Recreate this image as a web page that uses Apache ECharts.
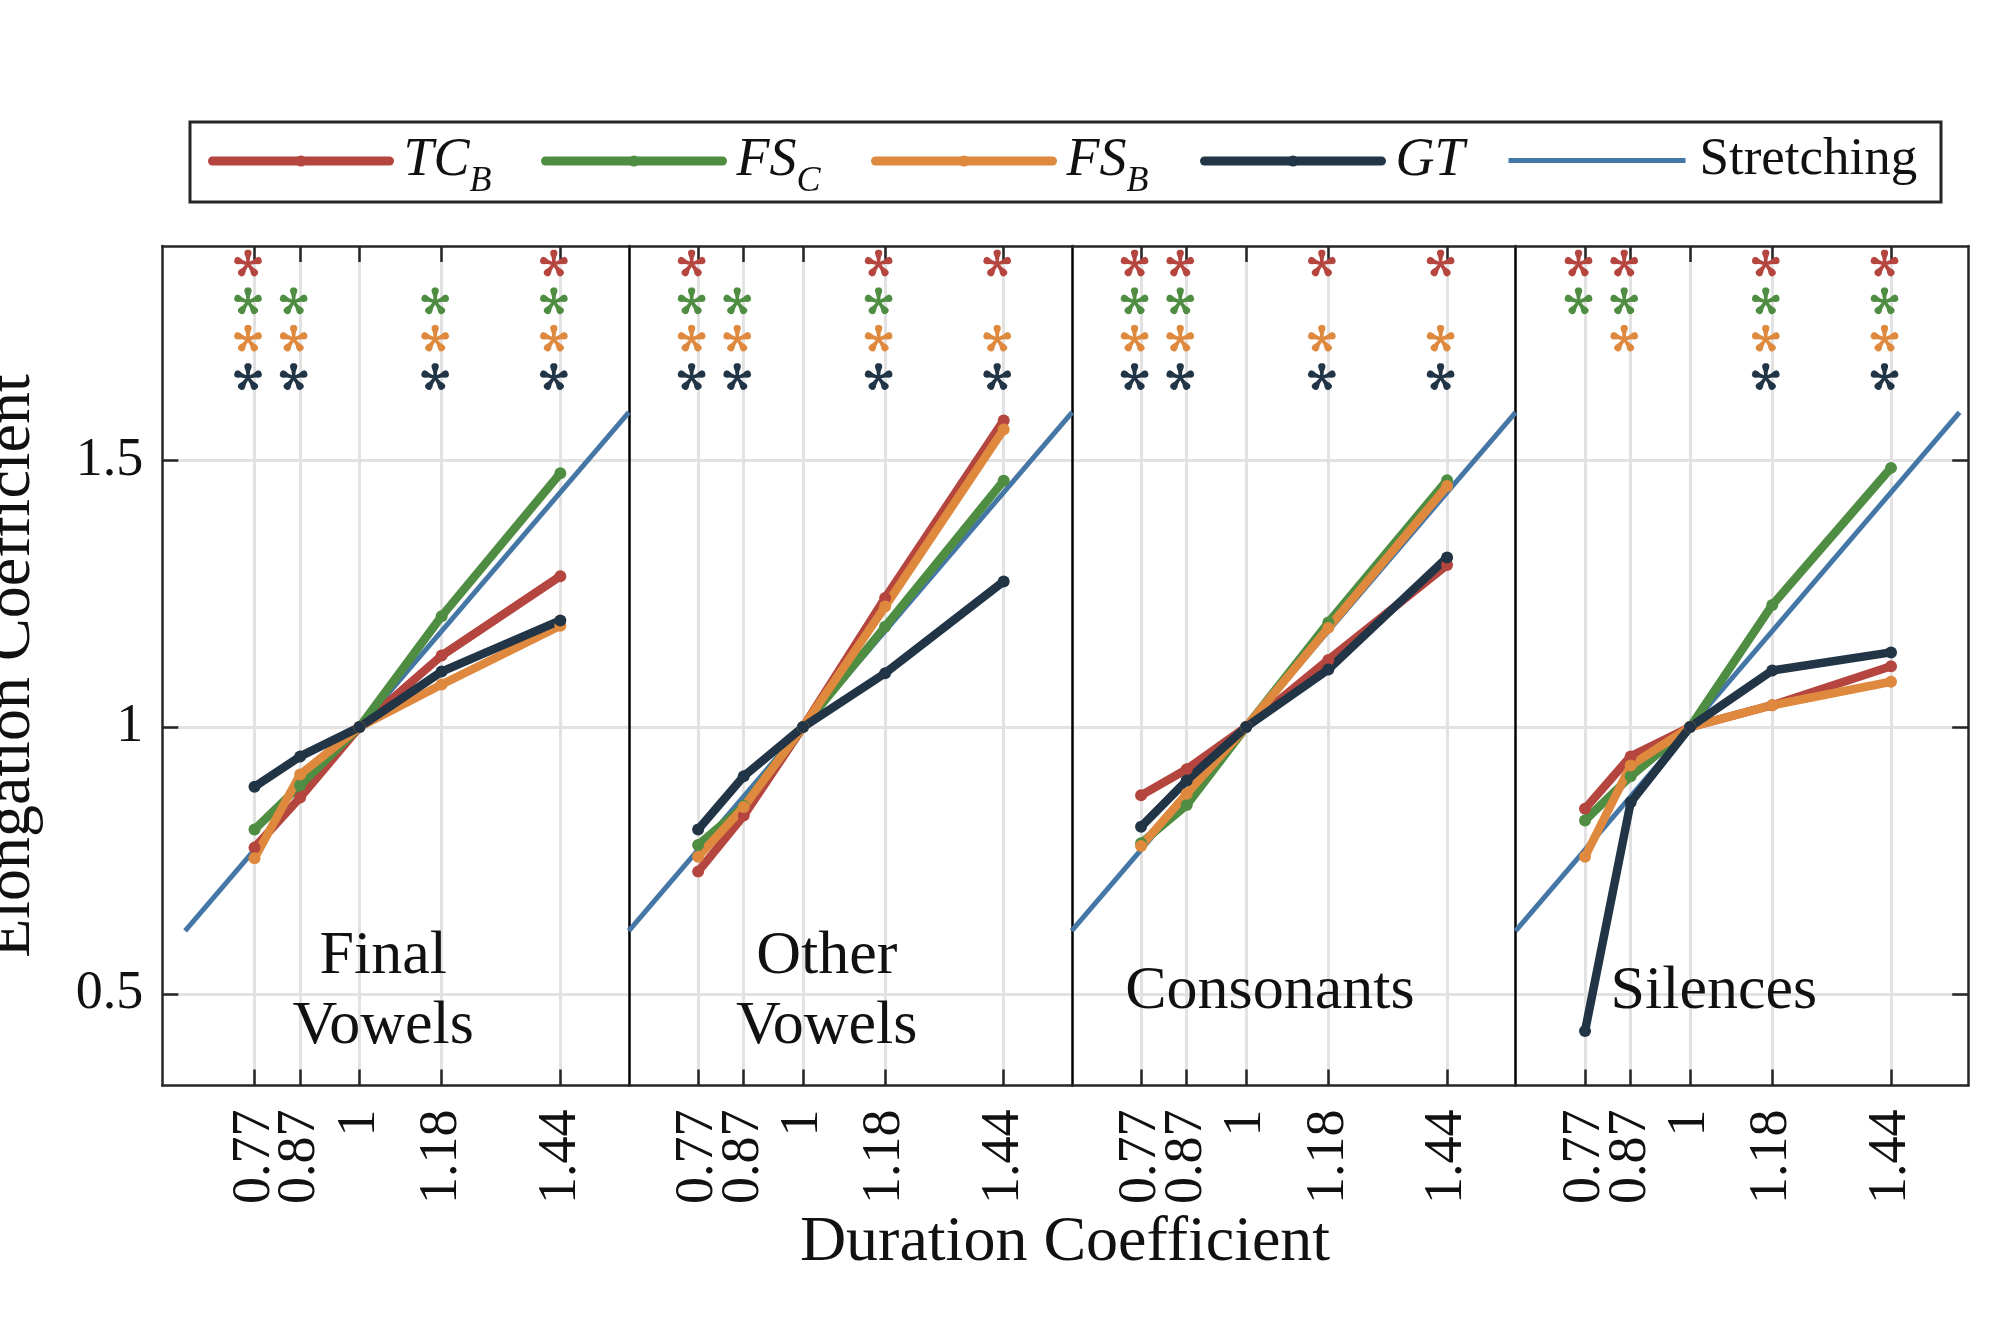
<!DOCTYPE html>
<html>
<head>
<meta charset="utf-8">
<script src="https://cdn.jsdelivr.net/npm/echarts@6/dist/echarts.min.js"></script>
<style>
html,body{margin:0;padding:0;background:#fff;}
#c{width:2000px;height:1319px;}
</style>
</head>
<body>
<div id="c"></div>
<script>
// ---------------- data ----------------
const durations = [0.77, 0.87, 1, 1.18, 1.44];
const testedDurations = [0.77, 0.87, 1.18, 1.44];
const panelNames = ['Final\nVowels', 'Other\nVowels', 'Consonants', 'Silences'];
const yTicks = [0.5, 1, 1.5];
const stretchRange = [0.618, 1.59];

const tcB = [
  [0.774, 0.868, 1, 1.134, 1.283],
  [0.729, 0.834, 1, 1.242, 1.575],
  [0.872, 0.921, 1, 1.126, 1.304],
  [0.847, 0.945, 1, 1.041, 1.114]
];
const fsC = [
  [0.808, 0.891, 1, 1.208, 1.476],
  [0.779, 0.852, 1, 1.188, 1.462],
  [0.782, 0.854, 1, 1.196, 1.463],
  [0.825, 0.908, 1, 1.229, 1.486]
];
const fsB = [
  [0.754, 0.911, 1, 1.080, 1.190],
  [0.757, 0.850, 1, 1.226, 1.558],
  [0.777, 0.875, 1, 1.186, 1.452],
  [0.757, 0.928, 1, 1.041, 1.085]
];
const gt = [
  [0.888, 0.945, 1, 1.104, 1.200],
  [0.808, 0.908, 1, 1.101, 1.273],
  [0.813, 0.900, 1, 1.108, 1.318],
  [0.430, 0.859, 1, 1.106, 1.140]
];
// significance marks per panel, for testedDurations
const sigTcB = [[1,0,0,1],[1,0,1,1],[1,1,1,1],[1,1,1,1]];
const sigFsC = [[1,1,1,1],[1,1,1,0],[1,1,0,0],[1,1,1,1]];
const sigFsB = [[1,1,1,1],[1,1,1,1],[1,1,1,1],[0,1,1,1]];
const sigGt  = [[1,1,1,1],[1,1,1,1],[1,1,1,1],[0,0,1,1]];

// ---------------- style / layout ----------------
const FONT = "'Liberation Serif', 'DejaVu Serif', serif";
const TXT = '#111111';
const FRAME = '#262626';
const GRIDC = '#e2e2e2';
const BLUE = '#4476a6';
const models = [
  {name: 'TC_B', values: tcB, sig: sigTcB, color: '#b5453f'},
  {name: 'FS_C', values: fsC, sig: sigFsC, color: '#4f8e42'},
  {name: 'FS_B', values: fsB, sig: sigFsB, color: '#de893d'},
  {name: 'GT',   values: gt,  sig: sigGt,  color: '#213547'}
];
const gridBoxes = [
  {left: 162.3, width: 466.5, min: 0.568, max: 1.59},
  {left: 628.8, width: 443.3, min: 0.618, max: 1.59},
  {left: 1072.1, width: 443.5, min: 0.619, max: 1.59},
  {left: 1515.6, width: 452.6, min: 0.618, max: 1.609}
];
const GRID_TOP = 246, GRID_H = 839.5, Y_MIN = 0.328, Y_MAX = 1.902;
const starRowY = [1.870, 1.799, 1.729, 1.657];
const labelPos = [1.052, 0.504];

// tick labels split into two interleaved sets so close labels are not auto-hidden
const labelsA = durations.filter((d, j) => j % 2 === 0);
const labelsB = durations.filter((d, j) => j % 2 === 1);

function asteriskPath() {
  const arm = [[0,-0.1],[0.45,-0.15],[0.7,-0.25],[0.88,-0.25],[1.0,-0.12],[1.0,0.12],[0.88,0.25],[0.7,0.25],[0.45,0.15],[0,0.1]];
  const angles = [90, 18, -54, -126, 162];
  let d = '';
  angles.forEach(a => {
    const t = a * Math.PI / 180, c = Math.cos(t), s = Math.sin(t);
    arm.forEach((p, k) => {
      const x = p[0] * c - p[1] * s, y = -(p[0] * s + p[1] * c);
      d += (k === 0 ? 'M' : 'L') + (x * 100).toFixed(1) + ' ' + (y * 100).toFixed(1) + ' ';
    });
    d += 'Z ';
  });
  return 'path://' + d;
}
const STAR = asteriskPath();

const xLabelStyle = {rotate: 90, margin: 24, interval: 0, showMinLabel: true, showMaxLabel: true,
  fontSize: 54, fontFamily: FONT, color: TXT};

const grids = [], xAxes = [], yAxes = [], series = [];
gridBoxes.forEach((g, i) => {
  grids.push({left: g.left, top: GRID_TOP, width: g.width, height: GRID_H, containLabel: false});
  const tickStyle = {color: FRAME, width: 2.5};
  // 3i: bottom frame, ticks, grid lines, label set A
  xAxes.push({
    gridIndex: i, type: 'value', min: g.min, max: g.max, position: 'bottom',
    axisLine: {show: true, onZero: false, lineStyle: {color: FRAME, width: 2.5}},
    axisTick: {show: true, inside: true, length: 16, customValues: durations, lineStyle: tickStyle},
    axisLabel: Object.assign({show: true, customValues: labelsA}, xLabelStyle),
    splitLine: {show: true, lineStyle: {color: GRIDC, width: 3}}
  });
  // 3i+1: top frame with ticks
  xAxes.push({
    gridIndex: i, type: 'value', min: g.min, max: g.max, position: 'top',
    axisLine: {show: true, onZero: false, lineStyle: {color: FRAME, width: 2.5}},
    axisTick: {show: true, inside: true, length: 16, customValues: durations, lineStyle: tickStyle},
    axisLabel: {show: false},
    splitLine: {show: false}
  });
  // 3i+2: label set B only
  xAxes.push({
    gridIndex: i, type: 'value', min: g.min, max: g.max, position: 'bottom', offset: 0,
    axisLine: {show: false, onZero: false},
    axisTick: {show: false, customValues: labelsB},
    axisLabel: Object.assign({show: true, customValues: labelsB}, xLabelStyle),
    splitLine: {show: false}
  });
  yAxes.push({
    gridIndex: i, type: 'value', min: Y_MIN, max: Y_MAX, position: 'left',
    axisLine: {show: true, onZero: false, lineStyle: {color: i === 0 ? FRAME : '#000', width: 2.5}},
    axisTick: {show: i === 0, inside: true, length: 16, customValues: yTicks, lineStyle: tickStyle},
    axisLabel: {show: i === 0, customValues: yTicks, margin: 19, fontSize: 54, fontFamily: FONT, color: TXT,
      showMinLabel: true, showMaxLabel: true},
    splitLine: {show: true, lineStyle: {color: GRIDC, width: 3}}
  });
});
// right frame of last panel with inward ticks
yAxes.push({
  gridIndex: 3, type: 'value', min: Y_MIN, max: Y_MAX, position: 'right',
  axisLine: {show: true, onZero: false, lineStyle: {color: FRAME, width: 2.5}},
  axisTick: {show: true, inside: true, length: 16, customValues: yTicks, lineStyle: {color: FRAME, width: 2.5}},
  axisLabel: {show: false},
  splitLine: {show: false}
});

gridBoxes.forEach((g, i) => {
  const xi = 3 * i;
  series.push({
    type: 'line', name: 'Stretching', xAxisIndex: xi, yAxisIndex: i,
    data: stretchRange.map(v => [v, v]), symbol: 'none',
    lineStyle: {color: BLUE, width: 5}, itemStyle: {color: BLUE}, z: 2, silent: true
  });
  models.forEach(m => {
    series.push({
      type: 'line', name: m.name, xAxisIndex: xi, yAxisIndex: i,
      data: durations.map((d, j) => [d, m.values[i][j]]),
      symbol: 'circle', symbolSize: 12, showSymbol: true,
      lineStyle: {color: m.color, width: 8.5, cap: 'round', join: 'round'},
      itemStyle: {color: m.color}, z: 3, silent: true
    });
  });
  models.forEach((m, k) => {
    series.push({
      type: 'scatter', name: m.name + ' significance', xAxisIndex: xi, yAxisIndex: i,
      data: testedDurations.filter((d, j) => m.sig[i][j]).map(d => [d, starRowY[k]]),
      symbol: STAR, symbolSize: 28, symbolKeepAspect: true, symbolOffset: [-6.5, 0],
      itemStyle: {color: m.color, opacity: 1}, z: 4, silent: true
    });
  });
  series.push({
    type: 'scatter', name: 'panel label', xAxisIndex: xi, yAxisIndex: i,
    data: [labelPos], symbolSize: 1, itemStyle: {color: '#fff', opacity: 0}, silent: true, z: 5,
    label: {show: true, position: 'inside', formatter: panelNames[i], opacity: 1,
      textBorderWidth: 0, textShadowBlur: 0,
      fontFamily: FONT, fontSize: 62, lineHeight: 70, color: TXT, align: 'center', verticalAlign: 'middle'}
  });
});

// legends: one per entry
const legendLefts = [208, 541, 871, 1200, 1506];
const legendNames = ['TC_B', 'FS_C', 'FS_B', 'GT', 'Stretching'];
const rich = {
  i: {fontFamily: FONT, fontStyle: 'italic', fontSize: 54, lineHeight: 78, verticalAlign: 'middle', color: TXT, padding: [0, 0, 0, 9]},
  s: {fontFamily: FONT, fontStyle: 'italic', fontSize: 36, lineHeight: 50, verticalAlign: 'bottom', color: TXT},
  r: {fontFamily: FONT, fontSize: 53, lineHeight: 78, verticalAlign: 'middle', color: TXT, padding: [0, 0, 0, 9]}
};
function legendFormatter(name) {
  if (name === 'Stretching') return '{r|Stretching}';
  const parts = name.split('_');
  return parts.length > 1 ? '{i|' + parts[0] + '}{s|' + parts[1] + '}' : '{i|' + parts[0] + '}';
}
const legends = legendNames.map((n, k) => ({
  data: [n], left: legendLefts[k], top: 134, padding: 0, orient: 'horizontal',
  itemWidth: 177, itemHeight: 14, selectedMode: false,
  lineStyle: {width: k < 4 ? 9 : 5},
  itemStyle: k < 4 ? {} : {opacity: 0},
  formatter: legendFormatter,
  textStyle: {rich: rich, color: TXT}
}));

const option = {
  animation: false,
  backgroundColor: '#fff',
  grid: grids,
  xAxis: xAxes,
  yAxis: yAxes,
  legend: legends,
  series: series,
  graphic: [
    {type: 'rect', shape: {x: 190, y: 122, width: 1751, height: 80},
     style: {fill: 'none', stroke: FRAME, lineWidth: 3}, silent: true, z: -1},
    {type: 'text', x: 1065, y: 1243,
     style: {text: 'Duration Coefficient', font: '64px ' + FONT, fill: TXT,
             textAlign: 'center', textVerticalAlign: 'middle', align: 'center', verticalAlign: 'middle'}},
    {type: 'text', x: 12, y: 666, rotation: Math.PI / 2,
     style: {text: 'Elongation Coefficient', font: '64px ' + FONT, fill: TXT,
             textAlign: 'center', textVerticalAlign: 'middle', align: 'center', verticalAlign: 'middle'}}
  ]
};
const chart = echarts.init(document.getElementById('c'), null, {renderer: 'canvas'});
chart.setOption(option);
</script>
</body>
</html>
